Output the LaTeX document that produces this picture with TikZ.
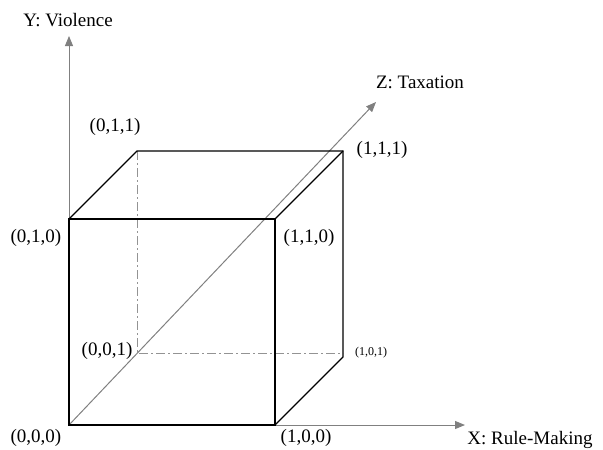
\documentclass[tikz,border=0pt]{standalone}
\usepackage{fontspec}
\setmainfont{Liberation Serif}
\usetikzlibrary{arrows.meta}
\begin{document}
\begin{tikzpicture}[x=1pt,y=-1pt,
  axis/.style={draw=gray, line width=1pt, -{Triangle[length=10pt,width=8pt]}},
  edge/.style={draw=black, line width=1.2pt},
  hidden/.style={draw=gray!85, line width=1pt, dash pattern=on 9pt off 3pt on 2pt off 3pt},
  lab/.style={font=\fontsize{19}{22}\selectfont, inner sep=0pt},
  small/.style={font=\fontsize{12}{14}\selectfont, inner sep=0pt}]
\useasboundingbox (0,0) rectangle (603,450);
% vertices
\coordinate (o)   at (69,425);
\coordinate (x)   at (275,425);
\coordinate (y)   at (69,219);
\coordinate (xy)  at (275,219);
\coordinate (z)   at (137,353);
\coordinate (xz)  at (343,357);
\coordinate (xzh) at (343,353);
\coordinate (yz)  at (137,151);
\coordinate (xyz) at (343,151);
\coordinate (xend) at (465,425);
\coordinate (yend) at (69,36);
\coordinate (zend) at (376,102);
% axes
\draw[axis] (o) -- (xend);
\draw[axis] (o) -- (yend);
\draw[axis] (o) -- (zend);
% hidden edges
\draw[hidden] (yz) -- (z) -- (xzh);
% visible edges
\draw[edge] (o) rectangle (xy);
\draw[edge] (y) -- (yz) -- (xyz) -- (xz) -- (x);
\draw[edge] (xy) -- (xyz);
% labels
\node[lab] (lyz)  at (115,127) {(0,1,1)};
\node[lab] (lxyz) at (382,150) {(1,1,1)};
\node[lab] (ly)   at (36,238)  {(0,1,0)};
\node[lab] (lxy)  at (309,238) {(1,1,0)};
\node[lab] (lz)   at (107,351) {(0,0,1)};
\node[small] (lxz) at (371,353) {(1,0,1)};
\node[lab] (lo)   at (36,438)  {(0,0,0)};
\node[lab] (lx)   at (306,438) {(1,0,0)};
\node[lab] (lX)   at (530,440) {X: Rule-Making};
\node[lab] (lY)   at (68,20)   {Y: Violence};
\node[lab] (lZ)   at (420,82)  {Z: Taxation};
\end{tikzpicture}
\end{document}
